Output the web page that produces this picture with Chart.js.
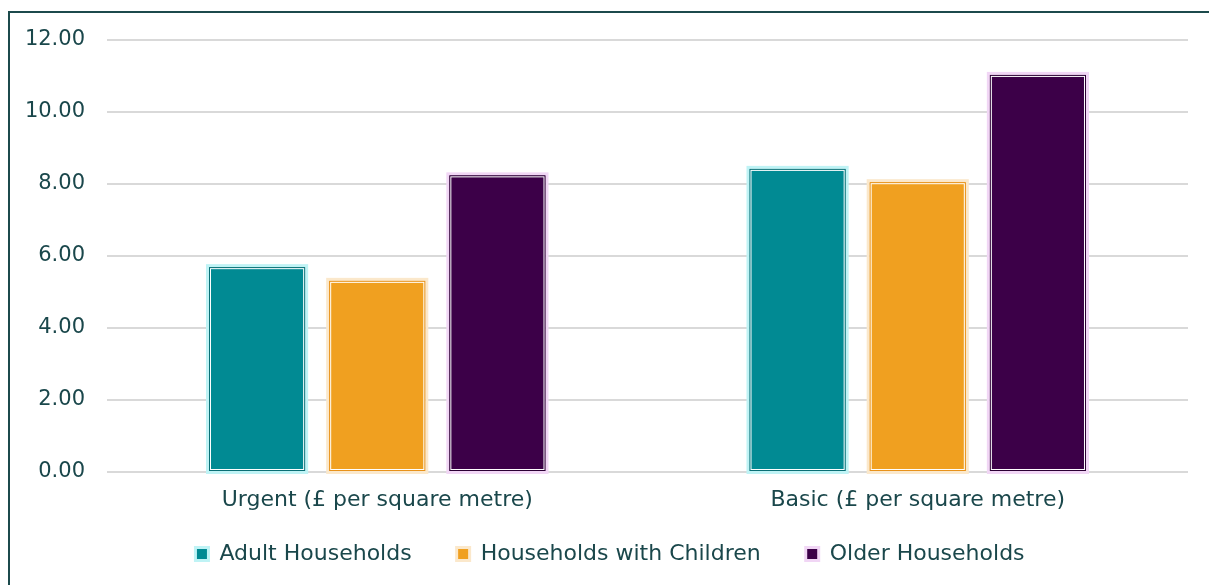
<!DOCTYPE html>
<html>
<head>
<meta charset="utf-8">
<script src="https://cdn.jsdelivr.net/npm/chart.js@4.4.1/dist/chart.umd.min.js"></script>
<style>
  html, body { margin: 0; padding: 0; background: #fff; overflow: hidden; }
  #frame {
    position: absolute; left: 8px; top: 11px; width: 1300px; height: 700px;
    border-left: 2px solid #1c4a4c; border-top: 2px solid #1c4a4c;
  }
  #wrap { position: absolute; left: 0; top: 0; width: 1209px; height: 585px; }
</style>
</head>
<body>
<div id="frame"></div>
<div id="wrap"><canvas id="chart"></canvas></div>
<script>
// categories and series
const categories = ["Urgent (£ per square metre)", "Basic (£ per square metre)"];
const adultHouseholds = [5.69, 8.42];
const householdsWithChildren = [5.31, 8.05];
const olderHouseholds = [8.24, 11.03];
const yTicks = [0, 2, 4, 6, 8, 10, 12];

const textColor = '#1a474b';
const fontFamily = '"DejaVu Sans", sans-serif';
const legendGap = 45;

// fill, outline, glow per series
const styles = [
  { fill: '#018a93', line: '#0b6f75', glow: '#bff3f5' },
  { fill: '#f0a020', line: '#e8921a', glow: '#fbe8cb' },
  { fill: '#3c0048', line: '#2b0034', glow: '#f1d6f5' }
];

// draws the framed look of each bar
const barFrame = {
  id: 'barFrame',
  afterDatasetsDraw(chart) {
    const ctx = chart.ctx;
    chart.data.datasets.forEach((ds, i) => {
      const meta = chart.getDatasetMeta(i);
      const st = styles[i];
      meta.data.forEach(bar => {
        const p = bar.getProps(['x', 'y', 'base', 'width'], true);
        const l = p.x - p.width / 2, r = p.x + p.width / 2;
        const t = Math.min(p.y, p.base), b = Math.max(p.y, p.base);
        ctx.save();
        ctx.lineWidth = 3;
        ctx.strokeStyle = st.glow;
        ctx.strokeRect(l - 1.5, t - 1.5, r - l + 3, b - t + 3);
        ctx.lineWidth = 1;
        ctx.strokeStyle = st.line;
        ctx.strokeRect(l + 0.5, t + 0.5, r - l - 1, b - t - 1);
        ctx.strokeStyle = '#ffffff';
        ctx.strokeRect(l + 1.5, t + 1.5, r - l - 3, b - t - 3);
        ctx.restore();
      });
    });
  }
};

// legend padding also spaces the items apart; keep its box short and nudge it
const legendPlace = {
  id: 'legendPlace',
  afterInit(chart) {
    const lg = chart.legend;
    if (!lg) return;
    const fit = lg.fit.bind(lg);
    lg.fit = function () {
      fit();
      this.height = 68;
    };
  },
  afterLayout(chart) {
    const lg = chart.legend;
    if (!lg) return;
    const dy = 498 - lg.top, dx = 16;
    lg.top += dy; lg.bottom += dy;
    lg.left += dx; lg.right += dx;
  }
};

new Chart(document.getElementById('chart'), {
  type: 'bar',
  data: {
    labels: categories,
    datasets: [
      { label: 'Adult Households', data: adultHouseholds },
      { label: 'Households with Children', data: householdsWithChildren },
      { label: 'Older Households', data: olderHouseholds }
    ].map((d, i) => Object.assign(d, {
      backgroundColor: styles[i].fill,
      borderColor: styles[i].glow,
      borderWidth: 0,
      categoryPercentage: 0.667,
      barPercentage: 0.8
    }))
  },
  options: {
    responsive: true,
    maintainAspectRatio: false,
    animation: false,
    layout: { padding: { left: 0, right: 21, top: 40, bottom: 0 } },
    scales: {
      x: {
        grid: { display: false },
        border: { display: false },
        afterFit: axis => { axis.height = 45; },
        ticks: { color: textColor, font: { family: fontFamily, size: 22 }, padding: 7 }
      },
      y: {
        min: 0,
        max: 12,
        afterBuildTicks: axis => { axis.ticks = yTicks.map(v => ({ value: v })); },
        afterFit: axis => { axis.width = 107; },
        grid: { color: '#d9d9d9', lineWidth: 2, drawTicks: false },
        border: { display: false },
        ticks: {
          color: textColor,
          font: { family: fontFamily, size: 21 },
          padding: 22,
          callback: v => Number(v).toFixed(2)
        }
      }
    },
    plugins: {
      legend: {
        position: 'bottom',
        labels: {
          color: textColor,
          font: { family: fontFamily, size: 22 },
          boxWidth: 13,
          boxHeight: 13,
          padding: legendGap,
          generateLabels: chart => chart.data.datasets.map((ds, i) => ({
            text: ds.label,
            fillStyle: styles[i].fill,
            strokeStyle: styles[i].glow,
            lineWidth: 3,
            fontColor: textColor,
            datasetIndex: i
          }))
        }
      },
      tooltip: { enabled: false }
    }
  },
  plugins: [barFrame, legendPlace]
});
</script>
</body>
</html>
